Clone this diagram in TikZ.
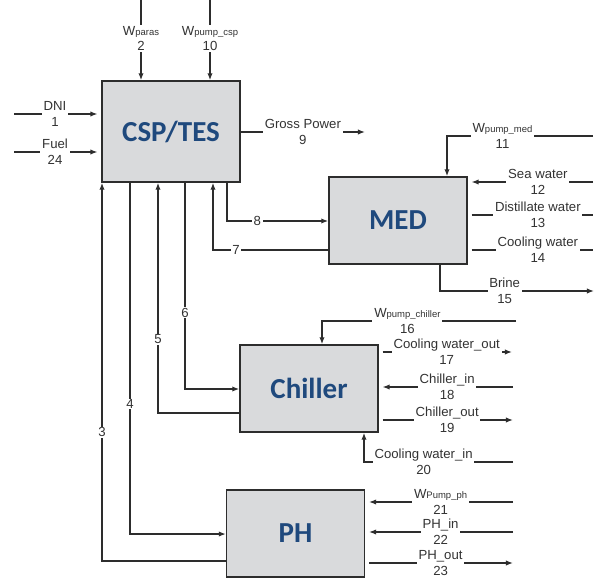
\documentclass[tikz,border=0pt]{standalone}
\usepackage{fontspec}
\setmainfont{Liberation Sans}
\newfontfamily\boxfont{Carlito}
\usetikzlibrary{arrows.meta,positioning}
\definecolor{boxfill}{RGB}{217,218,220}
\definecolor{boxblue}{RGB}{31,73,125}
\definecolor{linegray}{RGB}{45,45,45}
\newcommand{\Wsub}[1]{W{\fontsize{5.4}{5.4}\selectfont #1}}

\begin{document}
\begin{tikzpicture}[x=0.02cm,y=-0.02cm,
  unit/.style={draw=linegray, line width=0.8pt, fill=boxfill, minimum width=2.76cm, minimum height=1.74cm, inner sep=0pt, font=\boxfont\bfseries\fontsize{16.5}{18}\selectfont, text=boxblue},
  flow/.style={draw=linegray, line width=0.7pt},
  arr/.style={flow, -{Latex[length=4pt,width=3pt]}},
  gapin/.style={shorten >=2.2pt},
  gapout/.style={shorten <=2.2pt},
  lbl/.style={fill=white, inner xsep=1pt, inner ysep=0.5pt, align=center, font=\fontsize{7.5}{9}\selectfont, text=black!80}]
  \useasboundingbox (0,0) rectangle (594,581);

  % Units
  \node[unit, minimum height=2.02cm] (csp) at (171,131.5) {CSP/TES};
  \node[unit] (med) at (398,220.5) {MED};
  \node[unit] (chiller) at (309,388.5) {Chiller};
  \node[unit] (ph) at (295.5,533.5) {PH};

  % Inputs of CSP/TES
  \coordinate (dni) at (14,114);
  \coordinate (fuel) at (14,152);
  \coordinate (wparas) at (141,0);
  \coordinate (wcsp) at (210,0);
  \draw[arr, gapin] (dni) -- node[lbl, pos=.47] {DNI\\1} (dni -| csp.west);
  \draw[arr, gapin] (fuel) -- node[lbl, pos=.47] {Fuel\\24} (fuel -| csp.west);
  \draw[arr] (wparas) -- node[lbl, pos=.48] {\Wsub{paras}\\2} (wparas |- csp.north);
  \draw[arr] (wcsp) -- node[lbl, pos=.48] {\Wsub{pump\_csp}\\10} (wcsp |- csp.north);

  % Gross power
  \coordinate (gross) at (365,132);
  \draw[arr] (csp.east |- gross) -- node[lbl, pos=.5] {Gross Power\\9} (gross);

  % CSP/TES <-> MED
  \coordinate (c8) at (227,221);
  \coordinate (c7) at (213,250);
  \draw[arr] (c8 |- csp.south) -- (c8) -- node[lbl, pos=.3] {8} (c8 -| med.west);
  \draw[arr] (med.west |- c7) -- node[lbl, pos=.8] {7} (c7) -- (c7 |- csp.south);

  % MED streams
  \coordinate (wmed) at (593,136);
  \coordinate (b11) at (447,136);
  \coordinate (sea) at (593,182);
  \coordinate (dist) at (593,215);
  \coordinate (cwmed) at (593,250);
  \coordinate (b15) at (440,291);
  \coordinate (brine) at (594,291);
  \draw[arr] (wmed) -- node[lbl, pos=.62] {\Wsub{pump\_med}\\11} (b11) -- (b11 |- med.north);
  \draw[arr, gapin] (sea) -- node[lbl, pos=.44] {Sea water\\12} (sea -| med.east);
  \draw[flow, gapout] (dist -| med.east) -- node[lbl, pos=.56] {Distillate water\\13} (dist);
  \draw[flow, gapout] (cwmed -| med.east) -- node[lbl, pos=.56] {Cooling water\\14} (cwmed);
  \draw[arr] (b15 |- med.south) -- (b15) -- node[lbl, pos=.42] {Brine\\15} (brine);

  % CSP/TES <-> Chiller
  \coordinate (c6) at (185,389);
  \coordinate (c5) at (158,413);
  \draw[arr] (c6 |- csp.south) -- node[lbl, pos=.63] {6} (c6) -- (chiller.west |- c6);
  \draw[arr] (chiller.west |- c5) -- (c5) -- node[lbl, pos=.32] {5} (c5 |- csp.south);

  % Chiller streams
  \coordinate (wch) at (516,321);
  \coordinate (b16) at (322,321);
  \coordinate (cwout) at (512,352);
  \coordinate (chin) at (513,387);
  \coordinate (chout) at (513,420);
  \coordinate (cwin) at (513,462);
  \coordinate (b20) at (364,462);
  \draw[arr] (wch) -- node[lbl, pos=.56] {\Wsub{pump\_chiller}\\16} (b16) -- (b16 |- chiller.north);
  \draw[arr, gapout] (cwout -| chiller.east) -- node[lbl, pos=.51] {Cooling water\_out\\17} (cwout);
  \draw[arr, gapin] (chin) -- node[lbl, pos=.49] {Chiller\_in\\18} (chin -| chiller.east);
  \draw[arr, gapout] (chout -| chiller.east) -- node[lbl, pos=.51] {Chiller\_out\\19} (chout);
  \draw[arr] (cwin) -- node[lbl, pos=.6] {Cooling water\_in\\20} (b20) -- (b20 |- chiller.south);

  % CSP/TES <-> PH
  \coordinate (c4) at (130,534);
  \coordinate (c3) at (102,561);
  \draw[arr] (c4 |- csp.south) -- node[lbl, pos=.63] {4} (c4) -- (ph.west |- c4);
  \draw[arr] (ph.west |- c3) -- (c3) -- node[lbl, pos=.34] {3} (c3 |- csp.south);

  % PH streams
  \coordinate (wph) at (513,502);
  \coordinate (phin) at (513,532);
  \coordinate (phout) at (513,563);
  \draw[arr, gapin] (wph) -- node[lbl, pos=.49] {\Wsub{Pump\_ph}\\21} (wph -| ph.east);
  \draw[arr, gapin] (phin) -- node[lbl, pos=.49] {PH\_in\\22} (phin -| ph.east);
  \draw[arr, gapout] (phout -| ph.east) -- node[lbl, pos=.51] {PH\_out\\23} (phout);
\end{tikzpicture}
\end{document}
